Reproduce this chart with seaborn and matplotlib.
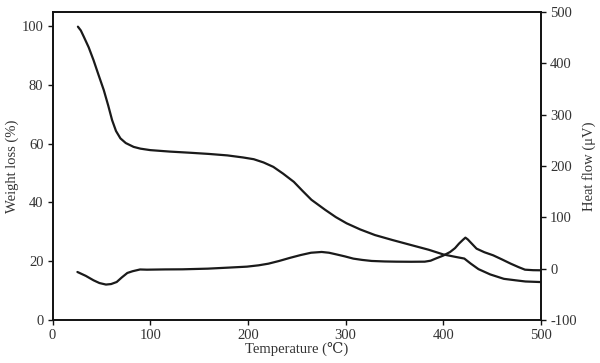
import matplotlib
matplotlib.use("Agg")
import matplotlib.pyplot as plt
import seaborn as sns
import pandas as pd

# Weight loss (TG) curve, left axis
tg_temp = [26, 29, 32, 37, 42, 47, 52.5, 57, 61, 65, 69.5, 75, 83, 90, 100, 120, 141, 160, 179, 195,
           206, 216, 226, 236, 247, 256, 265, 279, 290, 301, 315, 330, 348, 367, 385, 400,
           412, 421.5, 428, 436, 448, 462, 474, 484, 492, 500]
tg_val = [99.8, 98.5, 96.4, 92.8, 88.4, 83.5, 78.2, 73.0, 68.0, 64.3, 61.8, 60.2, 58.9, 58.3, 57.8, 57.3, 56.9, 56.5,
          56.0, 55.3, 54.7, 53.6, 52.1, 49.8, 47.0, 43.9, 40.9, 37.5, 35.0, 32.9, 30.8, 28.9, 27.2, 25.5, 23.9, 22.3,
          21.5, 20.9, 19.2, 17.3, 15.5, 14.0, 13.5, 13.1, 13.0, 12.9]

# Heat flow (DTA) curve, right axis
hf_temp = [25.5, 34, 42, 48, 54.7, 60, 65.7, 71, 76.6, 82, 89.6, 96.7, 115, 133, 159, 180, 199, 211, 221,
           232, 243, 254, 264.6, 275.5, 283, 290, 299, 308, 317, 326.6, 340, 352, 367, 381, 387, 392,
           400, 407, 412, 416, 420, 422.6, 425, 427, 431, 434, 442, 451, 460, 469, 477, 483.6, 492, 500]
hf_val = [-6.5, -14, -22.7, -28, -31, -30, -26, -17, -8.4, -5, -1.6, -2, -1.5, -1.3, 0, 2, 3.9, 6.5, 9.7,
          15, 21, 26.5, 31, 32.5, 31, 28, 24, 19.5, 17, 15, 14, 13.6, 13.4, 13.6, 15.5, 19.5,
          25.5, 32.5, 40, 48.7, 56, 60.4, 57, 53, 45, 39, 32, 26, 18, 9.7, 3, -2, -3, -3.2]

x_ticks = [0, 100, 200, 300, 400, 500]
left_ticks = [0, 20, 40, 60, 80, 100]
right_ticks = [-100, 0, 100, 200, 300, 400, 500]

sns.set_theme(style="ticks")
plt.rcParams['font.family'] = ['Liberation Serif', 'DejaVu Serif', 'DejaVu Sans']
fs = 10.5
plt.rcParams['font.size'] = fs

fig = plt.figure(figsize=(6.0, 3.63), dpi=100)
ax = fig.add_axes([0.0875, 0.1185, 0.8142, 0.8485])
ax2 = ax.twinx()

line_color = "#1a1a1a"
tg_df = pd.DataFrame({"T": tg_temp, "v": tg_val})
hf_df = pd.DataFrame({"T": hf_temp, "v": hf_val})
sns.lineplot(data=tg_df, x="T", y="v", ax=ax, color=line_color, lw=1.6, sort=False)
sns.lineplot(data=hf_df, x="T", y="v", ax=ax2, color=line_color, lw=1.6, sort=False)

ax.set_xlim(0, 500)
ax.set_ylim(0, 104.8)
ax2.set_ylim(-100, 500)
ax.set_xticks(x_ticks)
ax.set_yticks(left_ticks)
ax2.set_yticks(right_ticks)
ax.set_xticklabels([str(t) for t in x_ticks])
ax.set_yticklabels([str(t) for t in left_ticks])
ax2.set_yticklabels([str(t) for t in right_ticks])

for a in (ax, ax2):
    for s in a.spines.values():
        s.set_visible(True)
        s.set_color("#111111")
        s.set_linewidth(1.2)
    a.tick_params(direction="out", length=3.5, width=1.0, colors="#111111",
                  labelcolor="#333333", labelsize=fs, pad=3)

ax.set_xlabel("Temperature (℃)", fontsize=fs, color="#333333", labelpad=0)
ax.set_ylabel("Weight loss (%)", fontsize=fs, color="#333333", labelpad=2)
ax2.set_ylabel("Heat flow (μV)", fontsize=fs, color="#333333", labelpad=4, rotation=90)

fig.savefig("out.png", dpi=100)
